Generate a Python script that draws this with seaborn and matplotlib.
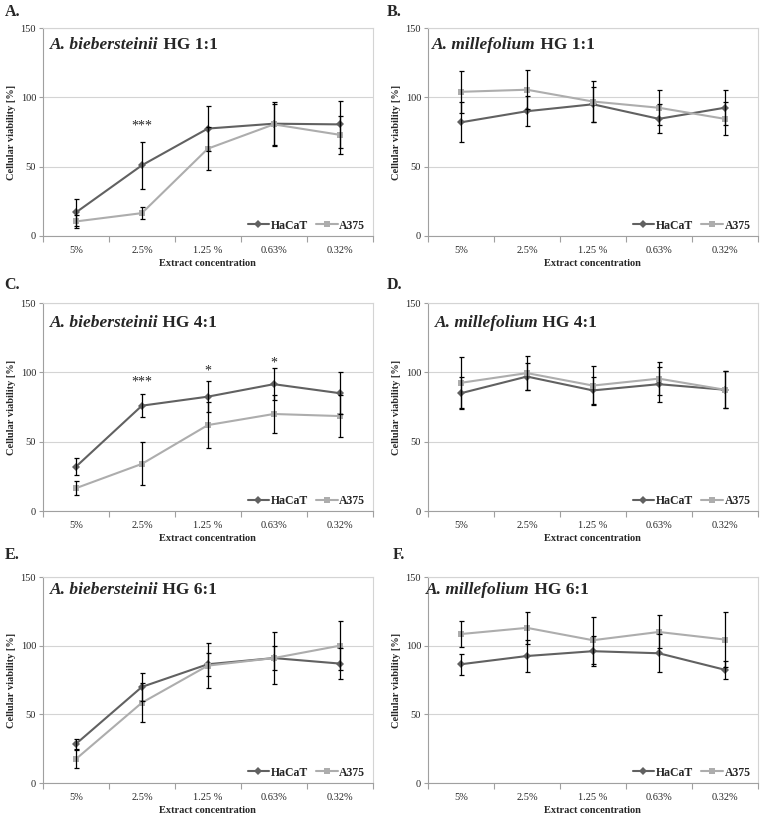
#!/usr/bin/env python3
"""Cell viability of HaCaT and A375 cells after extract treatment - 6 panels"""
import numpy as np
import pandas as pd
import matplotlib
matplotlib.use('Agg')
import matplotlib.pyplot as plt
import seaborn as sns

concentrations = ['5%', '2.5%', '1.25 %', '0.63%', '0.32%']
cell_lines = ['HaCaT', 'A375']

panel_letters = ['A.', 'B.', 'C.', 'D.', 'E.', 'F.']
species = ['A. biebersteinii', 'A. millefolium'] * 3
ratios = ['HG 1:1', 'HG 1:1', 'HG 4:1', 'HG 4:1', 'HG 6:1', 'HG 6:1']

# Panel A - A. biebersteinii HG 1:1
hacat_a = [17, 51, 77.5, 81, 80.5]
hacat_a_err = [10, 17, 16, 16, 17]
a375_a = [10.5, 16.5, 63, 80.5, 73]
a375_a_err = [5, 4.5, 15.5, 15, 13.5]

# Panel B - A. millefolium HG 1:1
hacat_b = [82, 90, 95, 84.5, 92.5]
hacat_b_err = [14.5, 11, 12.5, 10.5, 12.5]
a375_b = [104, 105.5, 97, 92.5, 84.5]
a375_b_err = [15, 14, 14.5, 12.5, 12]

# Panel C - A. biebersteinii HG 4:1
hacat_c = [32, 76, 82.5, 91.5, 85]
hacat_c_err = [6, 8.5, 11, 11.5, 15]
a375_c = [16.5, 34, 62, 70, 68.5]
a375_c_err = [5, 15.5, 16.5, 14, 15]

# Panel D - A. millefolium HG 4:1
hacat_d = [85, 97, 87, 91.5, 87.5]
hacat_d_err = [11.5, 9.5, 10, 12.5, 13.5]
a375_d = [92.5, 99.5, 90.5, 95.5, 87.5]
a375_d_err = [18.5, 12, 14, 12, 13.5]

# Panel E - A. biebersteinii HG 6:1
hacat_e = [28.5, 70, 86.5, 91, 87]
hacat_e_err = [3.5, 10, 8.5, 9, 11]
a375_e = [17.5, 58.5, 85.5, 91, 100]
a375_e_err = [6.5, 14, 16.5, 19, 18]

# Panel F - A. millefolium HG 6:1
hacat_f = [86.5, 92.5, 96, 94.5, 82.5]
hacat_f_err = [7.5, 11.5, 11, 14, 6.5]
a375_f = [108.5, 113, 104, 110, 104.5]
a375_f_err = [9.5, 11.5, 17, 12, 20]

# significance marks: (panel index, category index, y value, text)
stars_panel = [0, 2, 2, 2]
stars_cat = [1, 1, 2, 3]
stars_y = [79, 93, 101, 107]
stars_text = ['***', '***', '*', '*']

hacat_all = [hacat_a, hacat_b, hacat_c, hacat_d, hacat_e, hacat_f]
hacat_err_all = [hacat_a_err, hacat_b_err, hacat_c_err, hacat_d_err, hacat_e_err, hacat_f_err]
a375_all = [a375_a, a375_b, a375_c, a375_d, a375_e, a375_f]
a375_err_all = [a375_a_err, a375_b_err, a375_c_err, a375_d_err, a375_e_err, a375_f_err]

sns.set_theme(style='white')
plt.rcParams['font.family'] = ['Liberation Serif', 'DejaVu Serif']

palette = {'HaCaT': '#616161', 'A375': '#adadad'}
markers = {'HaCaT': 'D', 'A375': 's'}

fig = plt.figure(figsize=(7.65, 8.22), dpi=100)
lefts = [0.0562, 0.5595]
bottoms = [0.7129, 0.3783, 0.0474]
heights = [0.2530, 0.2530, 0.2506]
width = 0.431
title_pos = [(0.021, 0.918), (0.012, 0.918), (0.02, 0.904),
             (0.02, 0.905), (0.02, 0.937), (-0.005, 0.937)]
letter_pos = [(0.006, 0.985), (0.506, 0.985), (0.006, 0.653),
              (0.506, 0.653), (0.006, 0.325), (0.513, 0.325)]

xpos = np.arange(len(concentrations))

for i in range(6):
    ax = fig.add_axes([lefts[i % 2], bottoms[i // 2], width, heights[i // 2]])
    df = pd.DataFrame({
        'x': np.concatenate([xpos, xpos]),
        'viability': hacat_all[i] + a375_all[i],
        'cell': ['HaCaT'] * 5 + ['A375'] * 5,
    })
    sns.lineplot(data=df, x='x', y='viability', hue='cell', style='cell',
                 hue_order=cell_lines, style_order=cell_lines,
                 markers=markers, dashes=False, palette=palette,
                 linewidth=1.5, markersize=4.2, markeredgewidth=0,
                 errorbar=None, ax=ax, zorder=2)
    for vals, errs in [(hacat_all[i], hacat_err_all[i]), (a375_all[i], a375_err_all[i])]:
        ax.errorbar(xpos, vals, yerr=errs, fmt='none', ecolor='black',
                    elinewidth=0.9, capsize=1.8, capthick=0.9, zorder=3)

    ax.set_xlim(-0.5, 4.5)
    ax.set_ylim(0, 150)
    ax.set_yticks([0, 50, 100, 150])
    ax.set_xticks(xpos)
    ax.set_xticklabels(concentrations)
    ax.set_xticks(np.arange(-0.5, 5, 1), minor=True)
    ax.tick_params(axis='x', which='major', length=0, pad=7, labelsize=7.5)
    ax.tick_params(axis='x', which='minor', bottom=True, length=4,
                   color='#a0a0a0', width=0.8, direction='out')
    ax.tick_params(axis='y', left=True, length=3, color='#a0a0a0',
                   width=0.8, labelsize=7.5, pad=2)
    ax.yaxis.grid(True, color='#d4d4d4', linewidth=0.8)
    ax.set_axisbelow(True)
    for s in ['top', 'right']:
        ax.spines[s].set_color('#d4d4d4')
        ax.spines[s].set_linewidth(0.8)
    for s in ['left', 'bottom']:
        ax.spines[s].set_color('#a0a0a0')
        ax.spines[s].set_linewidth(0.8)

    ax.set_xlabel('Extract concentration', fontsize=7.5, fontweight='bold', labelpad=3)
    ax.set_ylabel('Cellular viability [%]', fontsize=7.5, fontweight='bold', labelpad=3)

    leg = ax.legend(loc='lower right', bbox_to_anchor=(1.01, -0.03), ncol=2,
                    frameon=False, handlelength=1.8, handletextpad=0.15,
                    columnspacing=0.7, prop={'weight': 'bold', 'size': 8.5})

    tx, ty = title_pos[i]
    t1 = ax.text(tx, ty, species[i], transform=ax.transAxes, fontsize=12.5,
                 fontstyle='italic', fontweight='bold', va='center', ha='left')
    ax.annotate(' ' + ratios[i], xy=(1, 0), xycoords=t1, va='bottom',
                ha='left', fontsize=12.5, fontweight='bold')

    lx, ly = letter_pos[i]
    fig.text(lx, ly, panel_letters[i], fontsize=11.5, fontweight='bold',
             va='center', ha='left')

    for p, c, yv, st in zip(stars_panel, stars_cat, stars_y, stars_text):
        if p == i:
            ax.text(c, yv, st, ha='center', va='center', fontsize=10)

fig.savefig('out.png', dpi=100)
